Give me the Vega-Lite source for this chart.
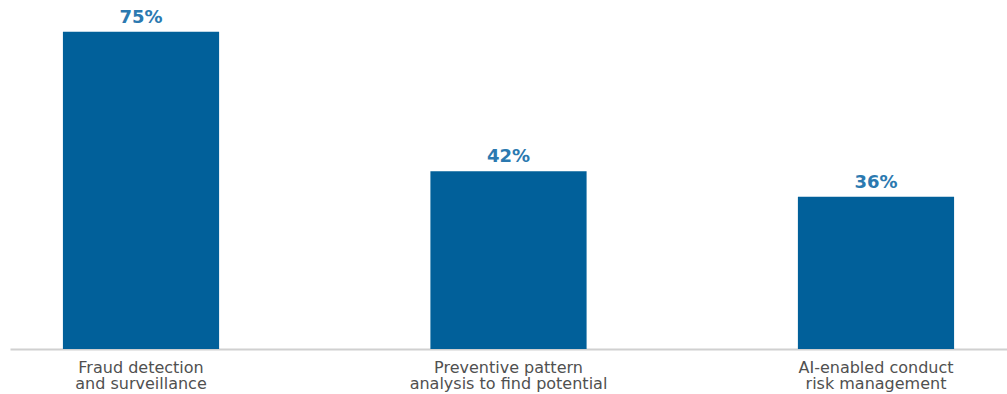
{
  "$schema": "https://vega.github.io/schema/vega-lite/v6.json",
  "autosize": "none",
  "padding": {"left": 10, "top": 0, "right": 0, "bottom": 45},
  "width": 997,
  "height": 349,
  "background": "white",
  "data": {"values": [
    {"category": "Fraud detection and surveillance", "value": 0.75},
    {"category": "Preventive pattern analysis to find potential", "value": 0.42},
    {"category": "AI-enabled conduct risk management", "value": 0.36}
  ]},
  "encoding": {
    "x": {"field": "category", "type": "nominal", "sort": null,
      "scale": {"paddingInner": 0.575, "paddingOuter": 0.144},
      "axis": {"title": null, "labelAngle": 0, "ticks": false, "domainColor": "#d0d0d0", "domainWidth": 2,
        "labelFont": "DejaVu Sans", "labelFontSize": 16, "labelColor": "#505050", "labelPadding": 10, "labelLineHeight": 16,
        "labelBaseline": "top", "labelOverlap": false, "labelBound": false, "labelLimit": 0,
        "labelExpr": "datum.value == 'Fraud detection and surveillance' ? ['Fraud detection','and surveillance'] : datum.value == 'Preventive pattern analysis to find potential' ? ['Preventive pattern','analysis to find potential'] : ['AI-enabled conduct','risk management']"}},
    "y": {"field": "value", "type": "quantitative", "scale": {"domain": [0, 0.825]}, "axis": null}
  },
  "layer": [
    {"mark": {"type": "bar", "color": "#01609a"}},
    {"mark": {"type": "text", "baseline": "bottom", "dy": -5, "font": "DejaVu Sans", "fontSize": 18, "fontWeight": "bold", "color": "#2b79b0"},
     "encoding": {"text": {"field": "value", "type": "quantitative", "format": ".0%"}}}
  ],
  "config": {"view": {"stroke": null}}
}
